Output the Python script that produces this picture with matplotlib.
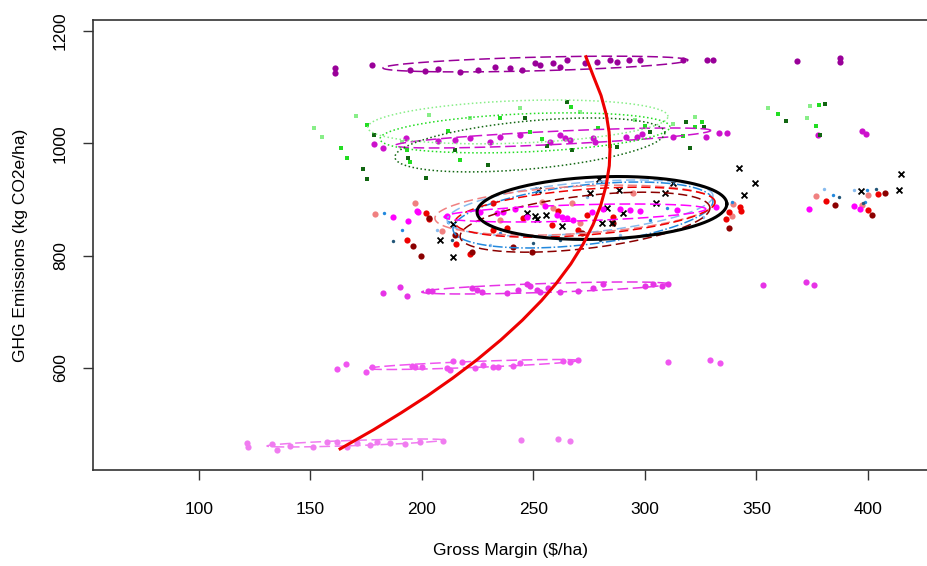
import numpy as np
import matplotlib
matplotlib.use("Agg")
import matplotlib.pyplot as plt

plt.rcParams['font.family'] = ['Liberation Sans', 'DejaVu Sans']

# ---- scatter groups (gross margin $/ha, GHG kg CO2e/ha) ----
plum_x = [161, 161, 177.6, 194.6, 201.3, 207.2, 217, 225, 232.7, 239.5, 244.8, 250.7, 253, 258.7,
          261.9, 265, 273, 278.5, 284.3, 287.4, 293, 297.7, 317, 328, 330.5, 368, 387.4, 387.4]
plum_y = [1125, 1134, 1139, 1130, 1129, 1132, 1127, 1130, 1136, 1134, 1130, 1143, 1139, 1143,
          1136, 1148, 1143, 1145, 1148, 1145, 1148, 1148, 1148, 1148, 1148, 1146, 1152, 1145]

orchid_x = [192.8, 178.5, 182.5, 207.2, 214.8, 221.5, 230.5, 235, 244, 257.4, 261.9, 264, 266.4,
            276.7, 277.6, 291.5, 296.4, 298.6, 312.5, 327.3, 333.2, 336.8, 377.6, 397.3, 399]
orchid_y = [1009, 999, 992, 1004, 1006, 1009, 1002, 1011, 1015, 1002, 1015, 1009, 1006,
            1009, 1002, 1011, 1011, 1016, 1011, 1011, 1018, 1018, 1015, 1022, 1017]

lgreen_x = [151.6, 155.2, 170.4, 191, 203.1, 270.8, 295.5, 312.5, 322.4, 355.1, 372.6, 374, 221.5, 244]
lgreen_y = [1027, 1011, 1049, 1002, 1050, 1056, 1041, 1034, 1047, 1063, 1045, 1066, 1045, 1063]

green_x = [175.3, 163.7, 166.4, 193.3, 194.6, 211.7, 266.8, 278.9, 284.3, 300, 317, 322.4, 325.5,
           359.6, 376.7, 378, 253.8, 235, 248.4, 217]
green_y = [1033, 992, 974, 988, 967, 1022, 1065, 1027, 995, 1031, 1013, 1029, 1038,
           1052, 1031, 1068, 1008, 1045, 1020, 970]

dgreen_x = [178.5, 173.5, 175.3, 193.7, 201.8, 265, 267.3, 287.4, 302.2, 318.4, 326.4, 320.2,
            363.2, 380.7, 378.5, 256, 229.6, 246.2, 214.8]
dgreen_y = [1015, 954, 936, 974, 938, 1073, 988, 993, 1020, 1038, 1029, 992,
            1040, 1070, 1015, 995, 961, 1045, 988]

salmon_x = [376.7, 400, 339.5, 339, 397.3, 196.9, 209, 258.7, 267.3, 253.8, 294.6, 270.8, 235, 178.9]
salmon_y = [906, 908, 892, 870.6, 890, 893.7, 843.9, 884.8, 893.7, 895.5, 911.5, 858.1, 863.4, 874.1]

red_x = [381.1, 404.5, 337.7, 342.6, 343, 400, 336.3, 193.3, 203.1, 215.2, 221.5, 238.1, 258.3,
         261, 270, 274, 285.6, 231.8, 245.3, 231.8, 201.8]
red_y = [897.3, 909.7, 877.7, 886.6, 879.5, 881.2, 865.2, 827.8, 865.2, 820.7, 802.9, 849.2, 854.5,
         879.5, 845.6, 872.3, 868.8, 845.6, 867, 893.7, 875.9]

dred_x = [385.2, 407.6, 401.8, 337.7, 196, 199.5, 214.8, 240.8, 249.3, 285.6, 271.7, 222.4, 203.1]
dred_y = [890, 911.5, 872.3, 849.2, 817.2, 799.4, 836.7, 815.4, 806.5, 858.1, 840.3, 806.5, 867]

magenta_x = [373.5, 393.7, 396.4, 331.8, 193.7, 197.8, 211.2, 233.6, 236.3, 247.1, 262.8, 276.2,
             281.2, 293.3, 297.7, 314.3, 265, 267.7, 260.5, 187, 198.2, 226, 241.7, 255.1, 288.8]
magenta_y = [883, 888.4, 883, 886.6, 861.7, 879.5, 870.6, 875.9, 877.7, 868.8, 868.8, 877.7,
             883, 881.2, 879.5, 881.2, 867, 863.4, 872.3, 868.8, 877.7, 877.7, 883, 888.4, 883]

lblue_x = [380.3, 393.7, 206.7, 230.5, 274, 326, 288.8]
lblue_y = [918.6, 916.8, 845.6, 818.9, 904.4, 868.8, 836.7]
blue_x = [384.3, 399.5, 398.6, 339, 191, 211.7, 235, 309.9, 182.9, 302.2]
blue_y = [908, 916.8, 895.5, 895.5, 845.6, 859.9, 840.3, 884.8, 875.9, 863.4]
dblue_x = [387, 403.6, 397.7, 213.4, 249.8, 279.8, 187, 261.9]
dblue_y = [904.4, 918.6, 893.7, 827.8, 822.5, 827.8, 826, 827.8]

cross_x = [342.1, 349.3, 344.4, 396.8, 414.8, 413.9, 304.9, 312.5, 208.1, 213.9, 251.6, 250.7, 255.6,
           262.8, 280.7, 285.2, 283, 290.1, 275.3, 288.3, 309, 279.4, 252, 213.9, 247.1]
cross_y = [956, 929.3, 908, 915, 945, 916.8, 893.7, 929.3, 827.8, 797.6, 865.2, 870.6, 872.3,
           852.8, 858.1, 858.1, 884.8, 876, 911.5, 916.8, 911.5, 936.4, 916.8, 856.3, 876]

pink1_x = [182.5, 190.1, 193.3, 202.7, 204.5, 222.4, 224.7, 226.9, 238.1, 243, 247.1, 248.4, 251.6,
           252.9, 256.5, 261.9, 269.9, 276.7, 281.2, 300, 303.6, 307.6, 310.3, 352.9, 372.2, 375.8]
pink1_y = [733.5, 744.2, 728.2, 737.1, 737.1, 742.4, 738.8, 735.3, 733.5, 738.8, 749.5, 746, 738.8,
           735.3, 742.4, 735.3, 737.1, 742.4, 749.5, 746, 749.5, 746, 749.5, 747.7, 753, 747.7]

pink2_x = [161.9, 165.9, 174.9, 177.6, 195.5, 196.9, 200, 211.2, 212.5, 213.9, 217.9, 223.8, 227.3,
           231.8, 234.1, 240.8, 243.9, 263.2, 266.4, 269.9, 310.3, 329.1, 333.6]
pink2_y = [598.2, 607.1, 592.9, 601.8, 603.6, 601.8, 601.8, 600, 596.4, 612.5, 610.7, 600, 605.3,
           601.8, 601.8, 603.6, 608.9, 612.5, 610.7, 614.2, 610.7, 614.2, 608.9]

pink3_x = [121.5, 122, 132.7, 135, 140.8, 151.1, 157.4, 161.9, 166.4, 170.8, 176.7, 179.8, 185.6,
           192.4, 199.1, 209.4, 244.4, 261, 266.4]
pink3_y = [466.5, 459.4, 464.7, 454, 461.2, 459.4, 468.3, 468.3, 459.4, 466.5, 463, 468.3, 466.5,
           464.7, 468.3, 470, 471.8, 473.6, 470]

# ---- ellipse summaries: centre x, centre y, half-width x, half-height y, correlation ----
ell_plum = (250.9, 1141, 68.4, 14, 0.5)
ell_orchid = (258.7, 1009.4, 70.8, 17.8, 0.75)
ell_lgreen = (243, 1038, 67.3, 39, 0.25)
ell_green = (246.2, 1018.5, 65, 35.6, 0.3)
ell_dgreen = (248.4, 997, 60.5, 48, 0.45)
ell_black = (280.7, 884.8, 56, 56, 0.13)
ell_blue = (272.2, 872.3, 58.3, 58.7, 0.42)
ell_lblue = (270.9, 884.8, 59.6, 49.8, 0.43)
ell_dred = (273.1, 859.5, 56, 53.4, 0.47)
ell_red = (273.1, 877.3, 58.3, 44.5, 0.4)
ell_salmon = (268.6, 880.9, 62.8, 44.5, 0.32)
ell_magenta = (268.6, 875.9, 58.7, 16, 0.44)
ell_pink1 = (255.1, 742.4, 55.2, 10.7, 0.67)
ell_pink2 = (222.9, 606.2, 47.1, 8.9, 0.8)
ell_pink3 = (170, 466.5, 39.5, 7.1, 0.75)

# ---- fitted frontier curve ----
curve_x = [163.3, 178.3, 190.6, 202.3, 213.8, 224.8, 235.4, 245.0, 253.6, 260.3, 266.7, 272.2,
           276.7, 280.2, 282.6, 284.0, 284.3, 283.9, 282.7, 280.3, 276.8, 273.5]
curve_y = [456, 490, 520, 550, 582, 615, 650, 685, 720, 751, 785, 820,
           855, 890, 925, 960, 988, 1020, 1050, 1085, 1120, 1154]


def ellipse(ax, p, color, ls, lw=1.1):
    cx, cy, a, b, r = p
    t = np.linspace(0, 2 * np.pi, 300)
    ex = cx + a * np.cos(t)
    ey = cy + b * (r * np.cos(t) + np.sqrt(1 - r * r) * np.sin(t))
    ax.plot(ex, ey, color=color, ls=ls, lw=lw)


fig = plt.figure(figsize=(9.28, 5.66), dpi=100)
ax = fig.add_axes([93 / 928, 96 / 566, 835 / 928, 450 / 566])

C_PLUM = '#990099'
C_ORCHID = '#CC11CC'
C_LGREEN = '#88EE88'
C_GREEN = '#22DD22'
C_DGREEN = '#116611'
C_SALMON = '#F08080'
C_RED = '#EE0000'
C_DRED = '#8B0000'
C_MAG = '#FF00FF'
C_LBLUE = '#88BBEE'
C_BLUE = '#2288DD'
C_DBLUE = '#225577'
C_PINK1 = '#E633E6'
C_PINK2 = '#F055F0'
C_PINK3 = '#F07CF0'

dot = 20
ax.scatter(plum_x, plum_y, s=dot, c=C_PLUM, lw=0)
ax.scatter(orchid_x, orchid_y, s=dot, c=C_ORCHID, lw=0)
ax.scatter(lgreen_x, lgreen_y, s=12, c=C_LGREEN, marker='s', lw=0)
ax.scatter(green_x, green_y, s=12, c=C_GREEN, marker='s', lw=0)
ax.scatter(dgreen_x, dgreen_y, s=12, c=C_DGREEN, marker='s', lw=0)
ax.scatter(salmon_x, salmon_y, s=dot, c=C_SALMON, lw=0)
ax.scatter(red_x, red_y, s=dot, c=C_RED, lw=0)
ax.scatter(dred_x, dred_y, s=dot, c=C_DRED, lw=0)
ax.scatter(lblue_x, lblue_y, s=6, c=C_LBLUE, lw=0)
ax.scatter(blue_x, blue_y, s=6, c=C_BLUE, lw=0)
ax.scatter(dblue_x, dblue_y, s=6, c=C_DBLUE, lw=0)
ax.scatter(cross_x, cross_y, s=18, c='black', marker='x', lw=1.3)
ax.scatter(magenta_x, magenta_y, s=dot, c=C_MAG, lw=0)
ax.scatter(pink1_x, pink1_y, s=dot, c=C_PINK1, lw=0)
ax.scatter(pink2_x, pink2_y, s=dot, c=C_PINK2, lw=0)
ax.scatter(pink3_x, pink3_y, s=dot, c=C_PINK3, lw=0)

ellipse(ax, ell_plum, C_PLUM, (0, (7, 3)))
ellipse(ax, ell_orchid, C_ORCHID, (0, (7, 3)))
ellipse(ax, ell_lgreen, C_LGREEN, ':')
ellipse(ax, ell_green, C_GREEN, ':')
ellipse(ax, ell_dgreen, C_DGREEN, ':')
ellipse(ax, ell_lblue, C_LBLUE, (0, (6, 3)))
ellipse(ax, ell_blue, C_BLUE, '-.')
ellipse(ax, ell_salmon, C_SALMON, (0, (6, 3)))
ellipse(ax, ell_red, C_RED, (0, (6, 3)))
ellipse(ax, ell_dred, C_DRED, (0, (6, 3)))
ellipse(ax, ell_magenta, C_MAG, (0, (7, 3)))
ellipse(ax, ell_black, 'black', '-', lw=2.2)
ellipse(ax, ell_pink1, C_PINK1, (0, (7, 3)))
ellipse(ax, ell_pink2, C_PINK2, (0, (7, 3)))
ellipse(ax, ell_pink3, C_PINK3, (0, (7, 3)))

ax.plot(curve_x, curve_y, color='#EE0000', lw=2.2, solid_joinstyle='round')

ax.set_xlim(52.5, 426.9)
ax.set_ylim(418.4, 1219.4)
ax.set_xticks([100, 150, 200, 250, 300, 350, 400])
ax.set_yticks([600, 800, 1000, 1200])
ax.tick_params(direction='out', length=7, width=1, labelsize=12.5, color='#333333')
ax.tick_params(axis='x', pad=16)
ax.tick_params(axis='y', pad=11)
for lab in ax.get_yticklabels():
    lab.set_rotation(90)
    lab.set_va('center')
ax.spines['right'].set_visible(False)
for s in ['left', 'top', 'bottom']:
    ax.spines[s].set_color('#333333')
    ax.spines[s].set_linewidth(1.2)

ax.set_xlabel('Gross Margin ($/ha)', fontsize=12.5, labelpad=19)
ax.set_ylabel('GHG Emissions (kg CO2e/ha)', fontsize=12.5, labelpad=18)

fig.savefig('out.png', dpi=100)
